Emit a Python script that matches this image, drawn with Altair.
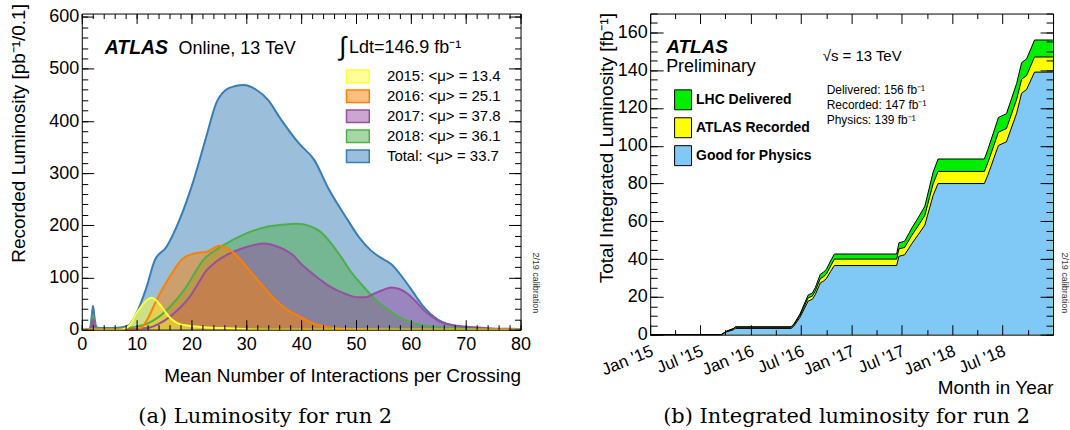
import altair as alt
import pandas as pd

FONT = "Liberation Sans"
SERIF = "DejaVu Serif"

# ---------------- (a) Luminosity vs mean number of interactions ----------------
series_a = ["2015: <μ> = 13.4", "2016: <μ> = 25.1", "2017: <μ> = 37.8",
            "2018: <μ> = 36.1", "Total: <μ> = 33.7"]
colors_a = ["#FFFF33", "#FF7F00", "#984EA3", "#4DAF4A", "#377EB8"]
pale_a = ["#FFFF99", "#FFBF80", "#CBA6D1", "#A6D7A4", "#9BBEDB"]

mu_total = [0, 1.5, 1.8, 2.05, 2.3, 2.7, 3.5, 5, 7, 8.5, 9.9, 11.8, 13.3, 15.4, 17.8, 20.2,
            22.7, 24.5, 26.3, 28, 29.5, 31.8, 34, 36, 39.6, 42.4, 45, 48.5, 50.5, 52.7, 54.5,
            56.4, 58.5, 60.6, 62, 63.6, 65, 66.7, 68.5, 70.5, 73, 76, 80]
lumi_total = [0, 2, 25, 46, 25, 5, 3, 3, 4, 8, 30, 81, 133, 158, 210, 280,
              370, 434, 460, 467, 469, 460, 440, 408, 357, 325, 270, 210, 178, 152, 138,
              126, 100, 69, 48, 30, 19, 11, 6, 3, 1.5, 0.5, 0]

mu_2018 = [0, 1.5, 1.8, 2.05, 2.3, 2.7, 4, 7, 9, 11.8, 14, 16, 19, 22.1, 25.7, 29.9, 33.6,
           36.5, 39.2, 41.5, 43.6, 45.5, 47.3, 49, 50.9, 52.7, 54.5, 57, 59.4, 61.5, 63.6,
           66, 68, 72, 76, 80]
lumi_2018 = [0, 1, 15, 27, 15, 3, 2, 2, 4, 11, 24, 43, 81, 133, 161, 184, 197,
             201, 203, 199, 187, 165, 139, 112, 88, 67, 49, 30, 17, 10, 6,
             4, 3, 1.5, 1, 0]

mu_2017 = [0, 1.5, 1.8, 2.05, 2.3, 2.7, 4, 8, 10.5, 12.4, 14, 16, 17.8, 19.6, 21.2, 22.7,
           24.2, 25.7, 27.8, 29.9, 31.6, 33.3, 35.2, 37.2, 38.5, 40, 42, 43.8, 45.5, 48,
           50.3, 51.8, 53.3, 54.9, 56.4, 57.9, 59.4, 60.9, 62.4, 64, 65.5, 67.5, 69.6,
           72.5, 75.6, 80]
lumi_2017 = [0, 1, 10, 20, 10, 2, 1, 1, 2, 4, 11, 24, 41, 62, 88, 113,
             128, 139, 150, 158, 163, 165, 161, 152, 143, 126, 108, 93, 81, 69,
             62, 62, 69, 76, 81, 78, 69, 54, 37, 24, 14, 9, 6,
             4, 2, 1.5]

mu_2016 = [0, 9, 10.5, 11.8, 13.6, 16, 18.4, 20.9, 22.7, 25.1, 27.5, 29.3, 31.1, 33,
           34.8, 36.5, 38.4, 40, 42, 44.2, 46.5, 48.5, 52, 60, 80]
lumi_2016 = [0, 0, 1, 17, 56, 101, 136, 147, 149, 161, 149, 130, 107, 84,
             62, 46, 32, 24, 13, 6, 3, 1, 0.5, 0, 0]

mu_2015 = [0, 7, 8.1, 9, 9.9, 10.9, 11.8, 12.7, 13.5, 14.2, 15.1, 16, 16.9, 17.8, 19.3,
           20.9, 23, 25.7, 30, 35, 80]
lumi_2015 = [0, 0, 3, 12, 30, 45, 56, 61, 57, 49, 36, 24, 16, 11, 8,
             6, 4, 3, 1, 0, 0]

x_major_a = list(range(0, 81, 10))
x_minor_a = list(range(0, 81, 2))
y_major_a = list(range(0, 601, 100))
y_minor_a = list(range(0, 601, 20))

# ---------------- (b) Integrated luminosity vs time ----------------
kinds_b = ["LHC Delivered", "ATLAS Recorded", "Good for Physics"]
colors_b = ["#00EE00", "#FFFF00", "#80C8F6"]

dates_b = ["2015-01-01", "2015-09-16", "2015-10-04", "2015-10-30", "2015-11-06",
           "2016-05-26", "2016-06-05", "2016-06-27", "2016-07-27", "2016-08-11",
           "2016-08-22", "2016-09-09", "2016-09-20", "2016-10-01", "2016-10-16",
           "2016-10-30", "2017-06-13", "2017-06-21", "2017-07-12", "2017-08-07",
           "2017-08-29", "2017-09-23", "2017-10-23", "2017-11-10", "2018-04-27",
           "2018-05-11", "2018-06-17", "2018-07-16", "2018-08-22", "2018-09-09",
           "2018-09-27", "2018-10-26", "2018-12-31"]
delivered_b = [0, 0, 1.8, 3.3, 4.2, 4.2, 5.6, 10.9, 21, 22, 25, 32, 33, 34.6, 39, 42.7,
               42.7, 48.6, 49.5, 56.5, 61.7, 68, 86, 93, 93, 98.6, 115, 117, 133, 144,
               146, 156, 156]
recorded_b = [0, 0, 1.7, 3.1, 3.9, 3.9, 5.2, 10.1, 19.5, 20.4, 23.2, 29.7, 30.6, 32.1,
              36.2, 40.0, 40.0, 45.4, 46.2, 52.6, 57.4, 63.1, 79.8, 86.4, 86.4, 91.6,
              107.2, 109.1, 124.6, 135.2, 137.2, 147, 147]
physics_b = [0, 0, 1.4, 2.6, 3.3, 3.3, 4.5, 9.1, 17.8, 18.7, 21.3, 27.4, 28.3, 29.7,
             33.4, 36.6, 36.6, 41.5, 42.3, 48.2, 52.7, 58.0, 73.7, 80.0, 80.0, 85.0,
             100.2, 102.1, 117.2, 127.8, 129.8, 139, 139]

y_major_b = list(range(0, 161, 20))
y_minor_b = list(range(0, 171, 5))
label_months_b = [(y, m) for y in (2015, 2016, 2017, 2018) for m in (1, 7)]
major_months_b = [(y, m) for y in (2015, 2016, 2017, 2018) for m in (1, 7)] + [(2019, 1)]
minor_months_b = [(y, m) for y in (2015, 2016, 2017, 2018) for m in (4, 10)]

texts_a = ["ATLAS", "Online, 13 TeV", "∫", "Ldt=146.9 fb⁻¹", "2/19 calibration",
           "(a) Luminosity for run 2"]
texts_b = ["ATLAS", "Preliminary", "√s = 13 TeV", "Delivered: 156 fb⁻¹",
           "Recorded: 147 fb⁻¹", "Physics: 139 fb⁻¹", "2/19 calibration",
           "(b) Integrated luminosity for run 2"]

# ---------------- data frames ----------------
rows = []
for name, mus, ls in zip(series_a, [mu_2015, mu_2016, mu_2017, mu_2018, mu_total],
                         [lumi_2015, lumi_2016, lumi_2017, lumi_2018, lumi_total]):
    for m, l in zip(mus, ls):
        rows.append({"series": name, "mu": m, "lumi": l})
df_a = pd.DataFrame(rows)

rows = []
for name, vals in zip(kinds_b, [delivered_b, recorded_b, physics_b]):
    for d, v in zip(dates_b, vals):
        rows.append({"kind": name, "date": pd.Timestamp(d), "lumi": v})
df_b = pd.DataFrame(rows)


# ---------------- helpers ----------------
def tick_axis(orient, offset, values, size, domain):
    return alt.Axis(orient=orient, offset=offset, values=values, labels=False, ticks=True,
                    tickColor="black", tickWidth=1, tickSize=size, domain=domain,
                    domainColor="black", domainWidth=1, grid=False, title=None, zindex=1)


def text(t, x, y, size, weight="normal", style="normal", font=FONT, align="left",
         baseline="alphabetic", angle=0, color="black"):
    return alt.Chart(pd.DataFrame({"t": [t]})).mark_text(
        align=align, baseline=baseline, font=font, fontSize=size, fontWeight=weight,
        fontStyle=style, angle=angle, color=color
    ).encode(x=alt.value(x), y=alt.value(y), text="t:N")


# ---------------- panel (a) ----------------
WA, HA = 440, 317
xa = alt.Scale(domain=[0, 80], nice=False, zero=False)
ya = alt.Scale(domain=[0, 606], nice=False, zero=False)
order_a = [series_a[4], series_a[3], series_a[2], series_a[1], series_a[0]]
# fill scale listed in drawing order (full colours, drawn half transparent)
fa = alt.Scale(domain=order_a, range=[colors_a[series_a.index(s)] for s in order_a])
sa = alt.Scale(domain=series_a, range=colors_a)
pa = alt.Scale(domain=series_a, range=pale_a)

legend_a = alt.Legend(orient="none", legendX=269.4, legendY=55.5, title=None,
                      symbolType="M-1.9,-1.05H1.9V1.05H-1.9Z", symbolSize=144,
                      symbolStrokeWidth=1.5, labelFont=FONT, labelFontSize=15,
                      labelColor="black", labelOffset=21.6, rowPadding=1, padding=0)

x_lab_a = alt.Axis(orient="bottom", values=x_major_a, ticks=False, tickSize=0, labelPadding=6,
                   labelFont=FONT, labelFontSize=18, labelColor="black", labelFlush=False,
                   labelOverlap=False, domain=True, domainColor="black", domainWidth=1,
                   grid=False, title="Mean Number of Interactions per Crossing",
                   titleFont=FONT, titleFontSize=19, titleFontWeight="normal",
                   titleColor="black", titleX=WA, titleY=52, titleAlign="right",
                   titleAnchor="end", titleBaseline="alphabetic", zindex=1)
y_lab_a = alt.Axis(orient="left", values=y_major_a, ticks=False, tickSize=0, labelPadding=3,
                   labelFont=FONT, labelFontSize=18, labelColor="black", labelOverlap=False,
                   domain=True, domainColor="black", domainWidth=1, grid=False,
                   title="Recorded Luminosity [pb⁻¹/0.1]", titleFont=FONT, titleFontSize=19,
                   titleFontWeight="normal", titleColor="black", titleAngle=270,
                   titleAlign="right", titleBaseline="alphabetic", titleX=-57, titleY=-10,
                   zindex=1)

axes_a = [
    (x_lab_a, y_lab_a),
    (tick_axis("top", -HA, x_major_a, 10, False), tick_axis("right", -WA, y_major_a, 12, False)),
    (tick_axis("top", -HA, x_minor_a, 5, False), tick_axis("right", -WA, y_minor_a, 6, False)),
    (tick_axis("bottom", -HA, x_major_a, 10, True), tick_axis("left", -WA, y_major_a, 12, True)),
    (tick_axis("bottom", -HA, x_minor_a, 5, False), tick_axis("left", -WA, y_minor_a, 6, False)),
]

layers_a = []
for name, (xax, yax) in zip(order_a, axes_a):
    layers_a.append(
        alt.Chart(df_a).transform_filter(alt.FieldEqualPredicate(field="series", equal=name))
        .mark_area(fillOpacity=0.5, interpolate="monotone")
        .encode(x=alt.X("mu:Q", scale=xa, axis=xax),
                y=alt.Y("lumi:Q", scale=ya, axis=yax, stack=None),
                fill=alt.Fill("series:N", scale=fa, legend=None))
    )
for name in order_a:
    layers_a.append(
        alt.Chart(df_a).transform_filter(alt.FieldEqualPredicate(field="series", equal=name))
        .mark_line(strokeWidth=2, interpolate="monotone")
        .encode(x=alt.X("mu:Q", scale=xa, axis=None),
                y=alt.Y("lumi:Q", scale=ya, axis=None, stack=None),
                stroke=alt.Stroke("series:N", scale=sa, legend=legend_a))
    )
# legend carrier: pale box with full-colour outline, draws nothing in the plot
layers_a.append(
    alt.Chart(pd.DataFrame({"series": series_a}))
    .mark_point(filled=True, size=0, opacity=1)
    .encode(color=alt.Color("series:N", scale=pa, legend=legend_a),
            stroke=alt.Stroke("series:N", scale=sa, legend=legend_a))
)

layers_a += [
    text(texts_a[0], 23, 40.5, 19.5, weight="bold", style="italic"),
    text(texts_a[1], 97, 40.5, 18),
    text(texts_a[2], 258, 42, 26),
    text(texts_a[3], 268, 40, 18),
    text(texts_a[4], WA + 15, 270, 9, align="center", baseline="middle", angle=90,
         color="#333333"),
    text(texts_a[5], 184, 411, 21, font=SERIF, align="center"),
]
panel_a = alt.layer(*layers_a).resolve_axis(x="independent", y="independent") \
    .properties(width=WA, height=HA)

# ---------------- panel (b) ----------------
WB, HB = 404, 322
xb = alt.Scale(domain=[alt.DateTime(year=2015, month=1, date=1),
                       alt.DateTime(year=2019, month=1, date=1)], nice=False)
yb = alt.Scale(domain=[0, 170], nice=False, zero=False)
cb = alt.Scale(domain=kinds_b, range=colors_b)

legend_b = alt.Legend(orient="none", legendX=22.5, legendY=76, title=None,
                      symbolType="M-0.85,-1H0.85V1H-0.85Z", symbolSize=400,
                      symbolStrokeWidth=1, symbolStrokeColor="black", labelFont=FONT,
                      labelFontSize=14, labelFontWeight="bold", labelColor="black",
                      labelOffset=2.5, rowPadding=3, padding=0)

x_lab_b = alt.Axis(orient="bottom",
                   values=[alt.DateTime(year=y, month=m, date=1) for y, m in label_months_b],
                   format="%b '%y", formatType="time", ticks=False, tickSize=0,
                   labelPadding=8, labelOffset=-1, labelAngle=-22, labelAlign="right",
                   labelBaseline="top", labelFont=FONT, labelFontSize=17, labelColor="black",
                   labelFlush=False, labelOverlap=False, domain=True, domainColor="black",
                   domainWidth=1, grid=False, title="Month in Year", titleFont=FONT,
                   titleFontSize=19, titleFontWeight="normal", titleColor="black",
                   titleX=WB, titleY=59, titleAlign="right", titleAnchor="end",
                   titleBaseline="alphabetic", zindex=1)
y_lab_b = alt.Axis(orient="left", values=y_major_b, ticks=False, tickSize=0, labelPadding=3,
                   labelFont=FONT, labelFontSize=18, labelColor="black", labelOverlap=False,
                   domain=True, domainColor="black", domainWidth=1, grid=False,
                   title="Total Integrated Luminosity [fb⁻¹]", titleFont=FONT,
                   titleFontSize=19, titleFontWeight="normal", titleColor="black",
                   titleAngle=270, titleAlign="right", titleBaseline="alphabetic",
                   titleX=-38, titleY=-1, zindex=1)

maj_b = [alt.DateTime(year=y, month=m, date=1) for y, m in major_months_b]
min_b = [alt.DateTime(year=y, month=m, date=1) for y, m in minor_months_b]
axes_b = [
    (x_lab_b, y_lab_b),
    (tick_axis("top", -HB, maj_b, 10, False), tick_axis("right", -WB, y_major_b, 13, False)),
    (tick_axis("top", -HB, min_b, 5, False), tick_axis("right", -WB, y_minor_b, 7, False)),
    (tick_axis("bottom", -HB, maj_b, 10, True), tick_axis("left", -WB, y_major_b, 13, True)),
    (tick_axis("bottom", -HB, min_b, 5, False), tick_axis("left", -WB, y_minor_b, 7, False)),
    (None, None),
]

layers_b = []
for name, (xax, yax) in zip(kinds_b, axes_b[:3]):
    layers_b.append(
        alt.Chart(df_b).transform_filter(alt.FieldEqualPredicate(field="kind", equal=name))
        .mark_area(interpolate="linear")
        .encode(x=alt.X("date:T", scale=xb, axis=xax),
                y=alt.Y("lumi:Q", scale=yb, axis=yax, stack=None),
                fill=alt.Fill("kind:N", scale=cb, legend=legend_b))
    )
for name, (xax, yax) in zip(kinds_b, axes_b[3:]):
    layers_b.append(
        alt.Chart(df_b).transform_filter(alt.FieldEqualPredicate(field="kind", equal=name))
        .mark_line(color="black", strokeWidth=1, interpolate="linear")
        .encode(x=alt.X("date:T", scale=xb, axis=xax),
                y=alt.Y("lumi:Q", scale=yb, axis=yax, stack=None))
    )

layers_b += [
    text(texts_b[0], 16, 40, 19, weight="bold", style="italic"),
    text(texts_b[1], 16, 59, 18),
    text(texts_b[2], 173, 48, 15),
    text(texts_b[3], 177, 81, 12),
    text(texts_b[4], 177, 96, 12),
    text(texts_b[5], 177, 111, 12),
    text(texts_b[6], WB + 12, 270, 9, align="center", baseline="middle", angle=90,
         color="#333333"),
    text(texts_b[7], 197, 411, 21, font=SERIF, align="center"),
]
panel_b = alt.layer(*layers_b).resolve_axis(x="independent", y="independent") \
    .properties(width=WB, height=HB)

chart = alt.hconcat(panel_a, panel_b, spacing=130, bounds="flush",
                    padding={"left": 9, "top": 2, "right": 0, "bottom": 0}) \
    .resolve_scale(fill="independent", stroke="independent", color="independent") \
    .resolve_legend(fill="independent", stroke="independent", color="independent") \
    .configure_view(stroke="transparent")

chart.save("out.html", embed_options={"renderer": "svg", "actions": False})
